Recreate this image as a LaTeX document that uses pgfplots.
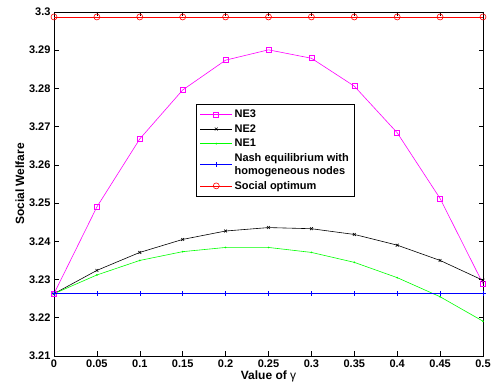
\documentclass[border=0pt]{standalone}
\usepackage{fontspec}
\setmainfont{Liberation Sans}[BoldFont={Liberation Sans Bold}]
\usepackage{pgfplots}
\pgfplotsset{compat=1.18}
\definecolor{mmag}{rgb}{1,0,1}
\definecolor{mgreen}{rgb}{0,1,0}
\begin{document}
\begin{tikzpicture}
\begin{axis}[
  scale only axis, width=429pt, height=344pt,
  xmin=0, xmax=0.5, ymin=3.21, ymax=3.3,
  xtick={0,0.05,...,0.5}, ytick={3.21,3.22,...,3.3},
  tick align=inside, major tick length=4.5pt,
  xticklabel style={/pgf/number format/.cd,fixed,precision=2},
  yticklabel style={/pgf/number format/.cd,fixed,precision=2},
  /pgf/number format/assume math mode=true,
  tick label style={font=\fontsize{11}{13}\selectfont\bfseries},
  label style={font=\fontsize{12}{14}\selectfont\bfseries},
  xlabel={Value of {\mdseries γ}},
  ylabel={Social Welfare},
  xlabel style={yshift=3pt},
  ylabel style={yshift=-2pt},
  axis line style={line width=0.8pt},
  every tick/.style={line width=0.6pt, black},
  legend style={at={(0.33,0.733)}, anchor=north west, draw=black, line width=0.8pt,
    font=\fontsize{11}{12.5}\selectfont\bfseries, cells={align=left, anchor=west},
    row sep=1.5pt, inner xsep=4pt, inner ysep=3.5pt},
  legend cell align=left,
  legend image code/.code={\draw[mark repeat=2,mark phase=2,#1] plot coordinates {(0pt,0pt) (16pt,0pt) (32pt,0pt)};},
]
\addplot[mmag, line width=0.6pt, mark=square, mark size=2.5pt, mark options={solid}]
 coordinates {(0,3.2263) (0.05,3.2490) (0.1,3.2668) (0.15,3.2796) (0.2,3.2874) (0.25,3.2901) (0.3,3.2879) (0.35,3.2806) (0.4,3.2684) (0.45,3.2512) (0.5,3.2289)};
\addlegendentry{NE3}
\addplot[black, line width=0.6pt, mark=x, mark size=2pt]
 coordinates {(0,3.2263) (0.05,3.2324) (0.1,3.2371) (0.15,3.2405) (0.2,3.2427) (0.25,3.2436) (0.3,3.2433) (0.35,3.2418) (0.4,3.2390) (0.45,3.2350) (0.5,3.2298)};
\addlegendentry{NE2}
\addplot[mgreen, line width=0.6pt, mark=*, mark size=0.5pt]
 coordinates {(0,3.2263) (0.05,3.2312) (0.1,3.2350) (0.15,3.2373) (0.2,3.2384) (0.25,3.2384) (0.3,3.2371) (0.35,3.2345) (0.4,3.2305) (0.45,3.2255) (0.5,3.2191)};
\addlegendentry{NE1}
\addplot[blue, line width=0.6pt, mark=+, mark size=2.5pt]
 coordinates {(0,3.2263) (0.05,3.2263) (0.1,3.2263) (0.15,3.2263) (0.2,3.2263) (0.25,3.2263) (0.3,3.2263) (0.35,3.2263) (0.4,3.2263) (0.45,3.2263) (0.5,3.2263)};
\addlegendentry{Nash equilibrium with\\homogeneous nodes}
\addplot[red, line width=0.6pt, mark=o, mark size=3pt]
 coordinates {(0,3.2987) (0.05,3.2987) (0.1,3.2987) (0.15,3.2987) (0.2,3.2987) (0.25,3.2987) (0.3,3.2987) (0.35,3.2987) (0.4,3.2987) (0.45,3.2987) (0.5,3.2987)};
\addlegendentry{Social optimum}
\end{axis}
\path (-54pt,-31pt) rectangle (440pt,356pt);
\end{tikzpicture}
\end{document}
